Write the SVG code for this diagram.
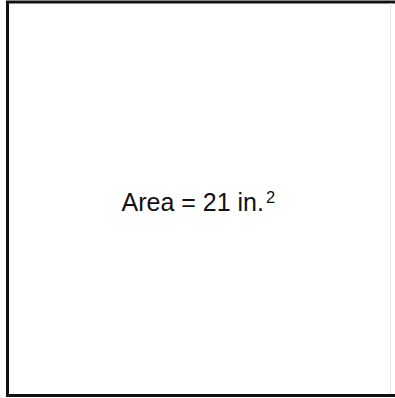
<svg xmlns="http://www.w3.org/2000/svg" width="395" height="398" viewBox="0 0 395 398">
<style>
.edge{fill:none;stroke:#111;stroke-width:3}
.lbl{font-family:"Liberation Sans",Arial,sans-serif;fill:#111}
</style>
<rect width="395" height="398" fill="#fff"/>
<g id="square">
<path class="edge" d="M395,2 H7.5 V395.5 H395"/>
<line x1="390.5" y1="3" x2="390.5" y2="394" stroke="#e6e6e6" stroke-width="1"/>
</g>
<g id="label">
<text class="lbl" x="121.5" y="211" font-size="25">Area = 21 in.<tspan font-size="16.5" dx="2" dy="-8.5">2</tspan></text>
</g>
</svg>
